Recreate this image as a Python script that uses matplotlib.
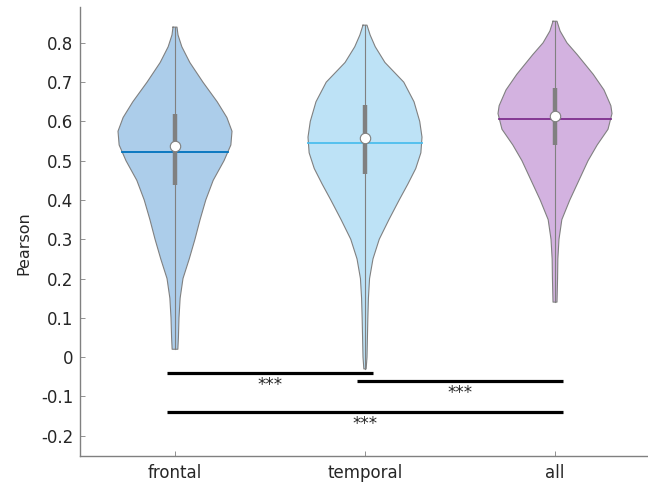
import matplotlib
matplotlib.use("Agg")
import matplotlib.pyplot as plt
import numpy as np

# groups and their summary values
groups = ["frontal", "temporal", "all"]
means = [0.521, 0.546, 0.605]
medians = [0.538, 0.558, 0.613]
q1 = [0.438, 0.466, 0.540]
q3 = [0.620, 0.641, 0.684]

# violin outlines: value levels and relative density (1 = widest point)
frontal_y = [0.84, 0.82, 0.79, 0.75, 0.70, 0.65, 0.61, 0.575, 0.54, 0.50,
             0.45, 0.40, 0.35, 0.30, 0.25, 0.20, 0.15, 0.10, 0.05, 0.02]
frontal_d = [0.035, 0.053, 0.12, 0.26, 0.49, 0.74, 0.91, 1.0, 0.98, 0.86,
             0.67, 0.54, 0.44, 0.35, 0.25, 0.14, 0.09, 0.07, 0.06, 0.05]

temporal_y = [0.845, 0.82, 0.79, 0.75, 0.70, 0.65, 0.60, 0.56, 0.52, 0.48,
              0.44, 0.40, 0.35, 0.30, 0.25, 0.20, 0.15, 0.10, 0.0, -0.03]
temporal_d = [0.035, 0.09, 0.18, 0.35, 0.68, 0.86, 0.96, 1.0, 0.98, 0.89,
              0.75, 0.60, 0.42, 0.25, 0.14, 0.08, 0.06, 0.05, 0.035, 0.02]

all_y = [0.855, 0.83, 0.80, 0.77, 0.72, 0.68, 0.64, 0.62, 0.58, 0.54,
         0.50, 0.45, 0.40, 0.35, 0.30, 0.25, 0.20, 0.14]
all_d = [0.035, 0.09, 0.21, 0.39, 0.67, 0.86, 0.98, 1.0, 0.93, 0.74,
         0.58, 0.42, 0.26, 0.12, 0.07, 0.05, 0.045, 0.035]

profiles = [(frontal_y, frontal_d), (temporal_y, temporal_d), (all_y, all_d)]

# significance comparisons (group index pairs), bar heights and labels
pairs = [(0, 1), (1, 2), (0, 2)]
bar_y = [-0.04, -0.06, -0.14]
sig_labels = ["***", "***", "***"]

yticks = [-0.2, -0.1, 0, 0.1, 0.2, 0.3, 0.4, 0.5, 0.6, 0.7, 0.8]
ytick_labels = ["-0.2", "-0.1", "0", "0.1", "0.2", "0.3", "0.4", "0.5", "0.6", "0.7", "0.8"]

line_colors = ["#0072BD", "#4DBEEE", "#7E2F8E"]
fill_colors = ["#a3c8e8", "#b6dff5", "#cfaadd"]
WIDTH = 0.3
GRAY = "#808080"

fig = plt.figure(figsize=(6.48, 4.86), dpi=100)
ax = fig.add_axes([80 / 648, 30.3 / 486, 570 / 648, 449 / 486])

for i, (py, pd) in enumerate(profiles):
    x = i + 1
    py = np.array(py)
    hw = np.array(pd) * WIDTH
    ax.fill_betweenx(py, x - hw, x + hw, facecolor=fill_colors[i],
                     edgecolor="none", alpha=0.9, zorder=1)
    # outline
    ox = np.concatenate([x - hw, (x + hw)[::-1], [x - hw[0]]])
    oy = np.concatenate([py, py[::-1], [py[0]]])
    ax.plot(ox, oy, color=GRAY, lw=0.8, zorder=2)
    # whisker line
    ax.plot([x, x], [py.min(), py.max()], color=GRAY, lw=0.8, zorder=3)
    # mean line across the violin
    order = np.argsort(py)
    w_mean = np.interp(means[i], py[order], hw[order])
    ax.plot([x - w_mean, x + w_mean], [means[i], means[i]],
            color=line_colors[i], lw=1.3, zorder=4)
    # box
    ax.plot([x, x], [q1[i], q3[i]], color=GRAY, lw=3.2,
            solid_capstyle="butt", zorder=5)
    ax.plot(x, medians[i], "o", ms=7.5, mfc="white", mec=GRAY, mew=0.8, zorder=6)

for (a, b), yb, lab in zip(pairs, bar_y, sig_labels):
    ax.plot([a + 1 - 0.04, b + 1 + 0.04], [yb, yb], color="black", lw=2.3,
            solid_capstyle="butt", zorder=7)
    ax.text((a + b) / 2 + 1, yb - 0.008, lab, ha="center", va="top",
            fontsize=12, color="#262626")

ax.set_xlim(0.5, 3.5)
ax.set_ylim(-0.251, 0.892)
ax.set_xticks([1, 2, 3])
ax.set_xticklabels(groups)
ax.set_yticks(yticks)
ax.set_yticklabels(ytick_labels)
ax.tick_params(direction="in", length=3.5, width=0.6, colors=GRAY,
               labelcolor="#262626", labelsize=12)
ax.tick_params(axis="x", pad=6)
ax.tick_params(axis="y", pad=5)

for s in ["top", "right"]:
    ax.spines[s].set_visible(False)
for s in ["left", "bottom"]:
    ax.spines[s].set_color(GRAY)
    ax.spines[s].set_linewidth(1.0)

ax.set_ylabel("Pearson", fontsize=11.5, color="#262626")
ax.yaxis.set_label_coords(-0.086, 0.474)

fig.savefig("out.png", dpi=100)
